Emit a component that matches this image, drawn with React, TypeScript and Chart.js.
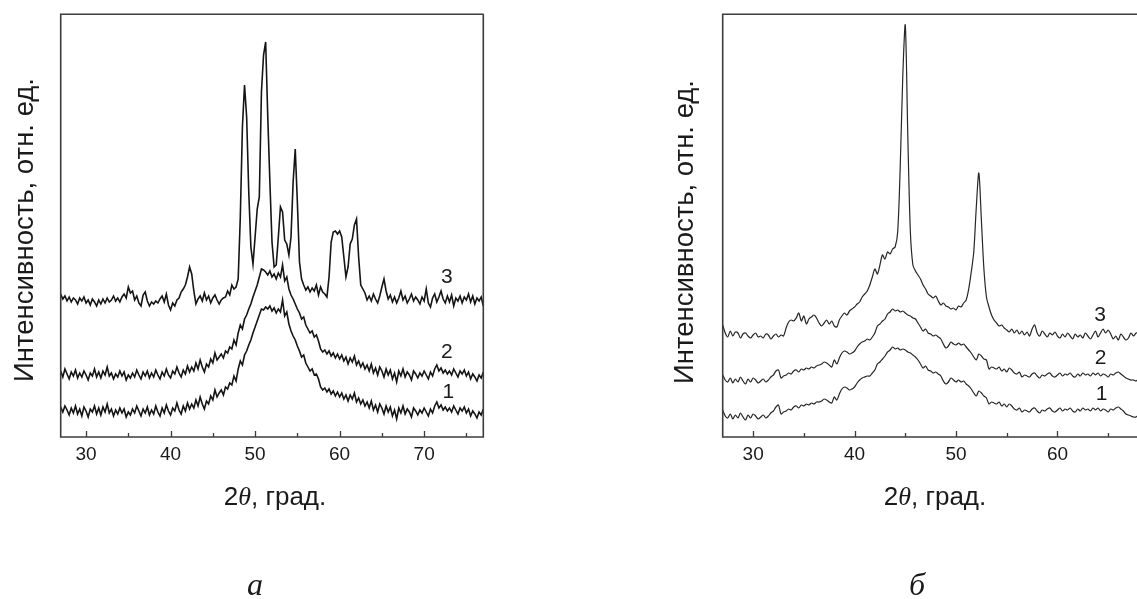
import React, { useEffect, useRef } from "react";
import { Chart, registerables } from "chart.js";

Chart.register(...registerables);

// ---------- Panel "а" (left) ----------
const LEFT_ANGLES = [
  27, 27.25, 27.5, 27.75, 28, 28.25, 28.5, 28.75, 29, 29.25, 29.5, 29.75,
  30, 30.25, 30.5, 30.75, 31, 31.25, 31.5, 31.75, 32, 32.25, 32.5, 32.75,
  33, 33.25, 33.5, 33.75, 34, 34.25, 34.5, 34.75, 35, 35.25, 35.5, 35.75,
  36, 36.25, 36.5, 36.75, 37, 37.25, 37.5, 37.75, 38, 38.25, 38.5, 38.75,
  39, 39.25, 39.5, 39.75, 40, 40.25, 40.5, 40.75, 41, 41.25, 41.5, 41.75,
  42, 42.25, 42.5, 42.75, 43, 43.25, 43.5, 43.75, 44, 44.25, 44.5, 44.75,
  45, 45.25, 45.5, 45.75, 46, 46.25, 46.5, 46.75, 47, 47.25, 47.5, 47.75,
  48, 48.25, 48.5, 48.75, 49, 49.25, 49.5, 49.75, 50, 50.25, 50.5, 50.75,
  51, 51.25, 51.5, 51.75, 52, 52.25, 52.5, 52.75, 53, 53.25, 53.5, 53.75,
  54, 54.25, 54.5, 54.75, 55, 55.25, 55.5, 55.75, 56, 56.25, 56.5, 56.75,
  57, 57.25, 57.5, 57.75, 58, 58.25, 58.5, 58.75, 59, 59.25, 59.5, 59.75,
  60, 60.25, 60.5, 60.75, 61, 61.25, 61.5, 61.75, 62, 62.25, 62.5, 62.75,
  63, 63.25, 63.5, 63.75, 64, 64.25, 64.5, 64.75, 65, 65.25, 65.5, 65.75,
  66, 66.25, 66.5, 66.75, 67, 67.25, 67.5, 67.75, 68, 68.25, 68.5, 68.75,
  69, 69.25, 69.5, 69.75, 70, 70.25, 70.5, 70.75, 71, 71.25, 71.5, 71.75,
  72, 72.25, 72.5, 72.75, 73, 73.25, 73.5, 73.75, 74, 74.25, 74.5, 74.75,
  75, 75.25, 75.5, 75.75, 76, 76.25, 76.5, 76.75, 77,
];

const LEFT_CURVE_1 = [
  30, 25, 31, 27, 22, 29, 24, 31, 23, 28, 21, 30,
  26, 20, 28, 25, 31, 23, 29, 22, 30, 25, 33, 24,
  28, 21, 27, 23, 29, 24, 28, 20, 25, 22, 28, 24,
  31, 26, 21, 28, 24, 30, 22, 27, 23, 31, 25, 21,
  29, 24, 32, 26, 22, 29, 26, 34, 27, 23, 31, 26,
  34, 28, 33, 29, 37, 31, 40, 33, 28, 36, 33, 41,
  37, 47, 40, 44, 47, 42, 50, 48, 54, 52, 61, 56,
  68, 76, 72, 82, 86, 92, 97, 104, 110, 116, 122, 128,
  127, 130, 128, 131, 126, 129, 124, 128, 125, 137, 121, 125,
  113, 106, 101, 97, 91, 86, 80, 82, 74, 70, 66, 68,
  62, 63, 58, 50, 47, 49, 45, 48, 43, 46, 41, 45,
  40, 44, 38, 42, 36, 42, 38, 44, 35, 39, 33, 37,
  31, 35, 29, 36, 27, 32, 25, 33, 29, 23, 31, 25,
  30, 21, 27, 18, 29, 24, 31, 23, 28, 25, 20, 29,
  26, 22, 27, 24, 29, 25, 21, 28, 24, 31, 35, 29,
  32, 27, 30, 26, 29, 25, 31, 27, 23, 29, 26, 30,
  24, 28, 21, 26, 23, 19, 25, 22, 28,
];

const LEFT_CURVE_2 = [
  66, 60, 68, 63, 58, 65, 61, 67, 59, 64, 60, 66,
  62, 57, 64, 61, 68, 60, 65, 59, 66, 62, 70, 61,
  64, 58, 63, 60, 66, 61, 65, 57, 62, 59, 64, 60,
  67, 62, 58, 65, 61, 66, 59, 64, 60, 67, 62, 58,
  65, 61, 68, 62, 59, 66, 63, 70, 64, 60, 67, 63,
  71, 65, 70, 66, 74, 68, 77, 70, 65, 73, 70, 78,
  74, 84, 77, 80, 83, 79, 86, 84, 90, 88, 97, 92,
  104, 112, 108, 118, 122, 128, 133, 140, 146, 152, 160, 168,
  167, 165, 162, 166, 160, 163, 158, 164, 160, 172, 156, 160,
  148, 142, 138, 133, 128, 124, 118, 120, 112, 108, 104, 106,
  100, 102, 96, 88, 85, 87, 83, 86, 81, 84, 79, 83,
  78, 82, 76, 80, 73, 79, 75, 81, 72, 76, 70, 74,
  68, 72, 66, 73, 64, 69, 62, 70, 66, 60, 68, 62,
  67, 58, 64, 55, 66, 61, 68, 60, 65, 62, 57, 66,
  63, 59, 64, 61, 66, 62, 58, 65, 61, 68, 72, 66,
  69, 64, 67, 63, 66, 62, 68, 64, 60, 66, 63, 67,
  61, 65, 58, 63, 60, 56, 62, 59, 65,
];

const LEFT_CURVE_3 = [
  143, 138, 141, 136, 140, 135, 139, 137, 133, 139, 136, 140,
  134, 137, 132, 138, 135, 131, 137, 133, 138, 134, 139, 135,
  137, 141, 136, 139, 135, 140, 143, 139, 150, 144, 146, 137,
  141, 134, 131, 142, 145, 136, 131, 135, 133, 136, 134, 138,
  141, 135, 143, 132, 127, 134, 131, 137, 139, 145, 148, 152,
  160, 170, 163, 146, 133, 138, 141, 136, 144, 137, 141, 134,
  139, 142, 137, 133, 137, 139, 140, 146, 142, 152, 148, 150,
  158, 220, 310, 352, 320, 245, 190, 173, 200, 228, 240, 345,
  382, 395, 320, 255, 195, 170, 172, 200, 230, 225, 197, 193,
  182, 200, 255, 288, 235, 175, 158, 152, 147, 150, 145, 149,
  146, 152, 142, 150, 145, 143, 140, 160, 195, 205, 206, 203,
  206, 200, 180, 160, 170, 193, 198, 212, 218, 180, 152, 148,
  144, 137, 141, 136, 143, 138, 134, 141, 150, 158, 146, 138,
  142, 135, 140, 134, 139, 146, 137, 141, 134, 138, 143, 136,
  140, 137, 133, 140, 136, 148, 134, 130, 139, 143, 135, 140,
  146, 138, 134, 141, 135, 142, 131, 139, 136, 141, 134, 140,
  137, 143, 135, 141, 133, 139, 136, 140, 131,
];

const LEFT_TICKS = [30, 35, 40, 45, 50, 55, 60, 65, 70, 75];

// ---------- Panel "б" (right) ----------
const RIGHT_ANGLES = [
  27, 27.25, 27.5, 27.75, 28, 28.25, 28.5, 28.75, 29, 29.25, 29.5, 29.75,
  30, 30.25, 30.5, 30.75, 31, 31.25, 31.5, 31.75, 32, 32.25, 32.5, 32.75,
  33, 33.25, 33.5, 33.75, 34, 34.25, 34.5, 34.75, 35, 35.25, 35.5, 35.75,
  36, 36.25, 36.5, 36.75, 37, 37.25, 37.5, 37.75, 38, 38.25, 38.5, 38.75,
  39, 39.25, 39.5, 39.75, 40, 40.25, 40.5, 40.75, 41, 41.25, 41.5, 41.75,
  42, 42.25, 42.5, 42.75, 43, 43.25, 43.5, 43.75, 44, 44.25, 44.5, 44.75,
  45, 45.25, 45.5, 45.75, 46, 46.25, 46.5, 46.75, 47, 47.25, 47.5, 47.75,
  48, 48.25, 48.5, 48.75, 49, 49.25, 49.5, 49.75, 50, 50.25, 50.5, 50.75,
  51, 51.25, 51.5, 51.75, 52, 52.25, 52.5, 52.75, 53, 53.25, 53.5, 53.75,
  54, 54.25, 54.5, 54.75, 55, 55.25, 55.5, 55.75, 56, 56.25, 56.5, 56.75,
  57, 57.25, 57.5, 57.75, 58, 58.25, 58.5, 58.75, 59, 59.25, 59.5, 59.75,
  60, 60.25, 60.5, 60.75, 61, 61.25, 61.5, 61.75, 62, 62.25, 62.5, 62.75,
  63, 63.25, 63.5, 63.75, 64, 64.25, 64.5, 64.75, 65, 65.25, 65.5, 65.75,
  66, 66.25, 66.5, 66.75, 67, 67.25, 67.5, 67.75, 68,
];

const RIGHT_CURVE_1 = [
  27, 21, 19, 23, 18, 22, 19, 24, 20, 17, 22, 19,
  23, 21, 18, 20, 22, 19, 21, 24, 26, 30, 32, 23,
  25, 26, 28, 27, 30, 31, 29, 32, 31, 33, 32, 34,
  33, 35, 35, 36, 38, 37, 35, 34, 40, 37, 43, 48,
  50, 49, 47, 48, 50, 54, 57, 59, 60, 61, 61, 64,
  67, 73, 75, 78, 81, 85, 87, 90, 88, 89, 87, 88,
  87, 85, 84, 82, 80, 77, 73, 69, 71, 67, 66, 64,
  65, 63, 61, 56, 53, 55, 59, 57, 55, 57, 55, 56,
  53, 51, 48, 44, 41, 46, 44, 41, 39, 33, 35, 34,
  33, 35, 31, 33, 30, 33, 31, 28, 27, 29, 25, 27,
  26, 25, 28, 29, 26, 24, 27, 26, 28, 29, 26, 25,
  27, 29, 26, 28, 27, 29, 26, 25, 28, 26, 29, 27,
  28, 26, 29, 27, 29, 26, 28, 27, 25, 28, 27, 29,
  30, 28, 26, 23, 22, 21, 20, 20, 22,
];

const RIGHT_CURVE_2 = [
  62, 57, 55, 59, 54, 58, 55, 60, 56, 53, 58, 55,
  59, 57, 54, 56, 58, 55, 57, 60, 62, 66, 67, 59,
  61, 62, 64, 63, 66, 67, 65, 68, 67, 69, 68, 70,
  69, 71, 72, 73, 75, 74, 72, 70, 77, 73, 79, 84,
  86, 85, 83, 84, 86, 90, 93, 95, 96, 98, 97, 100,
  104, 111, 113, 116, 118, 123, 125, 128, 126, 127, 125, 126,
  124, 122, 121, 119, 118, 114, 110, 106, 108, 104, 103, 101,
  102, 100, 98, 93, 89, 91, 95, 93, 92, 94, 92, 93,
  90, 87, 84, 80, 77, 83, 81, 78, 77, 68, 70, 69,
  68, 70, 66, 68, 65, 69, 67, 64, 63, 65, 60, 62,
  61, 60, 63, 64, 61, 59, 62, 61, 63, 64, 61, 60,
  62, 64, 61, 63, 62, 64, 61, 60, 63, 61, 64, 62,
  63, 61, 64, 62, 64, 61, 63, 62, 60, 63, 62, 64,
  65, 63, 61, 59, 58, 57, 57, 56, 58,
];

const RIGHT_CURVE_3 = [
  112, 104, 100, 106, 101, 105, 104, 99, 103, 104, 101, 99,
  102, 104, 100, 101, 99, 103, 102, 98, 101, 103, 100, 102,
  101, 109, 115, 117, 116, 119, 124, 116, 121, 113, 118, 120,
  122, 119, 114, 111, 114, 117, 113, 116, 111, 110, 117, 121,
  124, 122, 126, 128, 130, 133, 135, 140, 143, 146, 152, 160,
  168, 163, 172, 182, 178, 185, 183, 188, 190, 205, 270, 360,
  412, 300, 205, 172, 166, 162, 158, 152, 148, 143, 141, 139,
  141, 136, 132, 134, 131, 130, 128, 129, 127, 131, 130, 134,
  137, 148, 165, 185, 230, 264, 217, 168, 140, 130, 122, 117,
  114, 111, 112, 109, 107, 105, 108, 104, 107, 103, 106, 102,
  105, 101, 108, 112, 104, 101, 106, 103, 100, 104, 102, 105,
  101, 99, 103, 100, 104, 101, 98, 103, 100, 102, 99, 104,
  101, 98, 102, 106, 100, 104, 108, 104, 107, 103, 98, 101,
  97, 103, 100, 97, 99, 104, 101, 104, 104,
];

const RIGHT_TICKS = [30, 35, 40, 45, 50, 55, 60, 65, 70];

const CURVE_NAMES = ["1", "2", "3"];
const X_LABEL_EVERY = 10;
const Y_TITLE = "Интенсивность, отн. ед.";
const X_TITLE_PARTS = ["2", "θ", ", град."];
const PANEL_LETTERS = ["а", "б"];

const SANS = 'Arial, "Liberation Sans", sans-serif';
const SERIF = '"Liberation Serif", "Times New Roman", serif';
const INK = "#1a1a1a";

type PanelSpec = {
  left: number;
  width: number;
  padding: { left: number; right: number; top: number };
  xMin: number;
  xMax: number;
  yMax: number;
  ticks: number[];
  angles: number[];
  curves: number[][];
  lineWidth: number;
  lineColor: string;
  tension: number;
  drawRight: boolean;
  yTitle: { x: number; y: number };
  xTitle: { x: number; y: number };
  letter: { text: string; x: number; y: number };
  curveLabels: { x: number; y: number }[]; // data-space positions
};

const H = 599;
const AREA_BOTTOM = 437;

function makeDecor(spec: PanelSpec) {
  return {
    id: "panelDecor",
    afterDraw(chart: any) {
      const { ctx, chartArea: a, scales } = chart;
      const xs = scales.x;
      const ys = scales.y;
      ctx.save();
      // inward tick marks
      ctx.strokeStyle = "#3a3a3a";
      ctx.lineWidth = 1.3;
      xs.ticks.forEach((t: any) => {
        const px = Math.round(xs.getPixelForValue(t.value)) + 0.5;
        const len = t.value % X_LABEL_EVERY === 0 ? 6 : 4;
        ctx.beginPath();
        ctx.moveTo(px, a.bottom);
        ctx.lineTo(px, a.bottom - len);
        ctx.stroke();
      });
      // frame
      ctx.strokeStyle = "#3c3c3c";
      ctx.lineWidth = 1.6;
      ctx.beginPath();
      ctx.moveTo(a.right + 0.5, a.top);
      ctx.lineTo(a.left, a.top);
      ctx.lineTo(a.left, a.bottom);
      ctx.lineTo(a.right, a.bottom);
      if (spec.drawRight) ctx.lineTo(a.right, a.top);
      ctx.stroke();

      ctx.fillStyle = INK;
      // curve labels
      ctx.font = `21px ${SANS}`;
      ctx.textAlign = "center";
      ctx.textBaseline = "middle";
      spec.curveLabels.forEach((p, i) => {
        ctx.fillText(CURVE_NAMES[i], xs.getPixelForValue(p.x), ys.getPixelForValue(p.y));
      });

      // y title
      ctx.save();
      ctx.translate(spec.yTitle.x, spec.yTitle.y);
      ctx.rotate(-Math.PI / 2);
      ctx.font = `27.5px ${SANS}`;
      ctx.fillText(Y_TITLE, 0, 0);
      ctx.restore();

      // x title with italic theta
      const fonts = [`26px ${SANS}`, `italic 26px ${SERIF}`, `26px ${SANS}`];
      const widths = X_TITLE_PARTS.map((s, i) => {
        ctx.font = fonts[i];
        return ctx.measureText(s).width;
      });
      const total = widths.reduce((s, w) => s + w, 0);
      let cx = spec.xTitle.x - total / 2;
      ctx.textAlign = "left";
      X_TITLE_PARTS.forEach((s, i) => {
        ctx.font = fonts[i];
        ctx.fillText(s, cx, spec.xTitle.y);
        cx += widths[i];
      });

      // panel letter
      ctx.textAlign = "center";
      ctx.textBaseline = "alphabetic";
      ctx.font = `italic 32px ${SERIF}`;
      ctx.fillText(spec.letter.text, spec.letter.x, spec.letter.y);
      ctx.restore();
    },
  };
}

function Panel({ spec }: { spec: PanelSpec }) {
  const ref = useRef<HTMLCanvasElement>(null);
  useEffect(() => {
    const canvas = ref.current;
    if (!canvas) return;
    const datasets = spec.curves.map((ys, i) => ({
      label: CURVE_NAMES[i],
      data: spec.angles.map((x, j) => ({ x, y: ys[j] })),
      borderColor: spec.lineColor,
      borderWidth: spec.lineWidth,
      pointRadius: 0,
      tension: spec.tension,
      fill: false,
    }));
    const chart = new Chart(canvas, {
      type: "line",
      data: { datasets },
      options: {
        animation: false,
        responsive: false,
        maintainAspectRatio: false,
        layout: {
          padding: {
            left: spec.padding.left,
            right: spec.padding.right,
            top: spec.padding.top,
            bottom: 0,
          },
        },
        plugins: {
          legend: { display: false },
          tooltip: { enabled: false },
        },
        scales: {
          x: {
            type: "linear",
            min: spec.xMin,
            max: spec.xMax,
            grid: { display: false, drawTicks: false },
            border: { display: false },
            ticks: {
              autoSkip: false,
              maxRotation: 0,
              padding: 6,
              color: INK,
              font: { family: SANS, size: 19 },
              callback: (v: any) => (Number(v) % X_LABEL_EVERY === 0 ? String(v) : ""),
            },
            afterBuildTicks: (scale: any) => {
              scale.ticks = spec.ticks.map((value) => ({ value }));
            },
            afterFit: (scale: any) => {
              scale.height = H - AREA_BOTTOM;
            },
          },
          y: {
            type: "linear",
            display: false,
            min: 0,
            max: spec.yMax,
          },
        },
      },
      plugins: [makeDecor(spec)],
    } as any);
    return () => chart.destroy();
  }, [spec]);
  return (
    <canvas
      ref={ref}
      width={spec.width}
      height={H}
      style={{ position: "absolute", left: spec.left, top: 0, width: spec.width, height: H }}
    />
  );
}

const LEFT_SPEC: PanelSpec = {
  left: 0,
  width: 500,
  padding: { left: 60.7, right: 16.7, top: 14.3 },
  xMin: 27,
  xMax: 77,
  yMax: 422.7,
  ticks: LEFT_TICKS,
  angles: LEFT_ANGLES,
  curves: [LEFT_CURVE_1, LEFT_CURVE_2, LEFT_CURVE_3],
  lineWidth: 1.6,
  lineColor: "#141414",
  tension: 0,
  drawRight: true,
  yTitle: { x: 25, y: 230 },
  xTitle: { x: 275, y: 498 },
  letter: { text: PANEL_LETTERS[0], x: 255, y: 595 },
  curveLabels: [
    { x: 72.85, y: 45 },
    { x: 72.7, y: 85 },
    { x: 72.7, y: 160 },
  ],
};

const RIGHT_SPEC: PanelSpec = {
  left: 600,
  width: 600,
  padding: { left: 122.7, right: 41.1, top: 14.3 },
  xMin: 27,
  xMax: 70,
  yMax: 422.7,
  ticks: RIGHT_TICKS,
  angles: RIGHT_ANGLES,
  curves: [RIGHT_CURVE_1, RIGHT_CURVE_2, RIGHT_CURVE_3],
  lineWidth: 1.2,
  lineColor: "#262626",
  tension: 0.3,
  drawRight: true,
  yTitle: { x: 85, y: 232 },
  xTitle: { x: 335, y: 498 },
  letter: { text: PANEL_LETTERS[1], x: 317, y: 595 },
  curveLabels: [
    { x: 64.36, y: 43 },
    { x: 64.26, y: 79 },
    { x: 64.2, y: 122 },
  ],
};

export default function App() {
  return (
    <div
      style={{
        position: "fixed",
        left: 0,
        top: 0,
        width: 1137,
        height: H,
        overflow: "hidden",
        background: "#ffffff",
      }}
    >
      <Panel spec={LEFT_SPEC} />
      <Panel spec={RIGHT_SPEC} />
    </div>
  );
}
